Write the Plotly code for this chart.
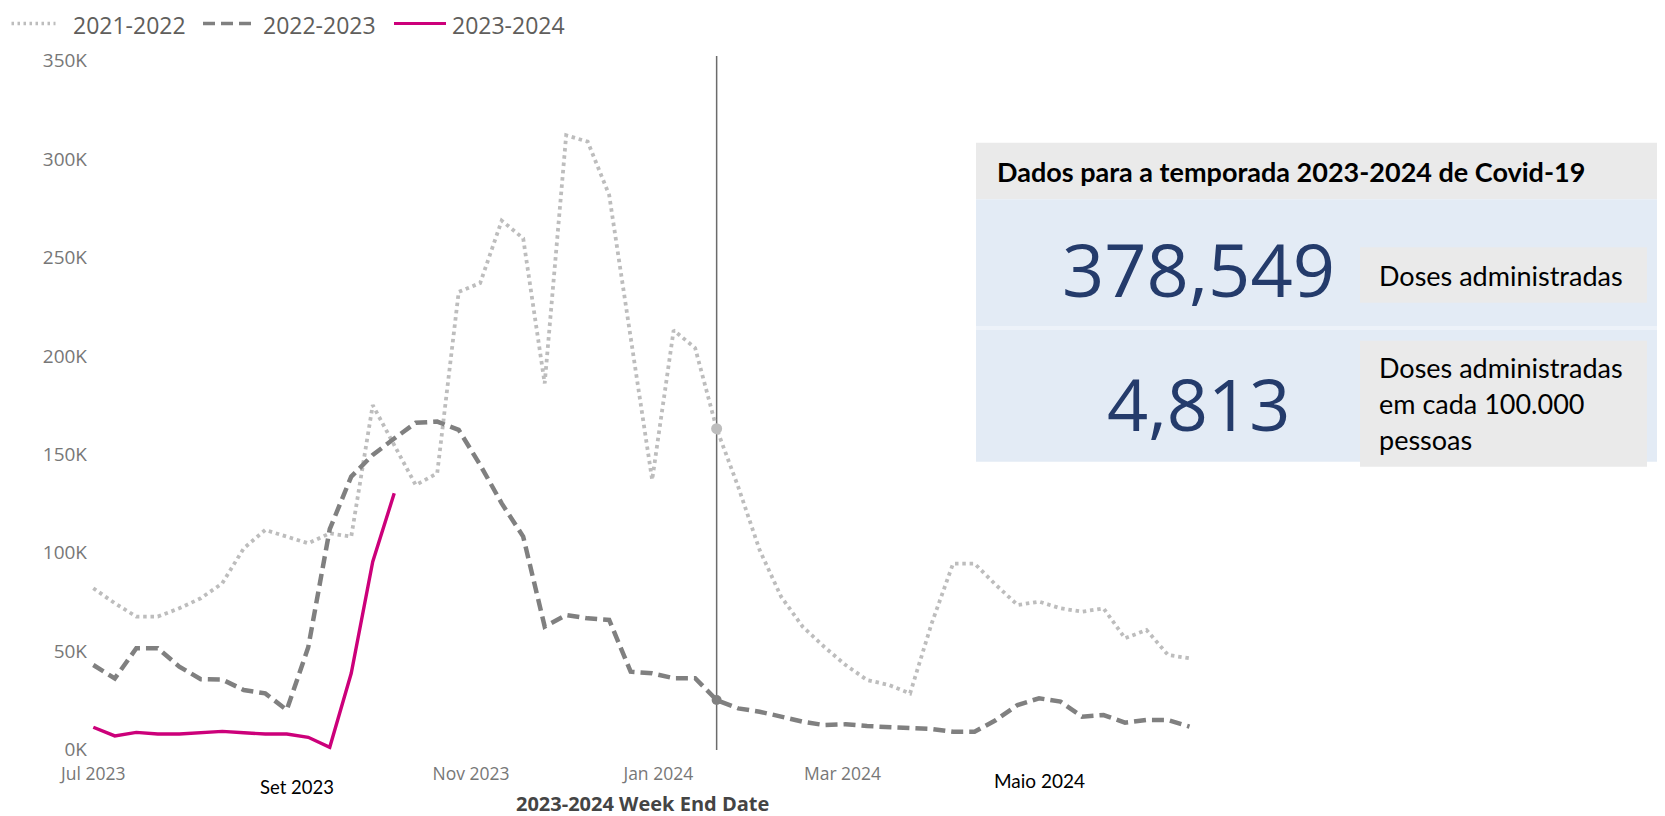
import pandas as pd
import plotly.graph_objects as go

# ---------------- data ----------------
week_end_dates = pd.date_range("2023-07-01", periods=52, freq="7D")

season_2021_2022 = [82000, 74400, 67600, 67600, 71800, 76900, 84500, 102300, 111600, 108200,
                    104800, 109900, 108200, 175000, 155000, 134400, 140400, 232500, 237000, 268700,
                    259700, 186000, 312000, 308800, 281700, 210000, 137000, 213000, 204000, 163000,
                    133600, 101400, 77700, 62500, 52300, 43000, 35400, 32900, 28600, 64000,
                    94500, 94500, 83600, 73500, 75200, 71800, 70100, 71800, 56600, 60800,
                    48100, 46400]
season_2022_2023 = [43000, 36200, 51500, 51500, 42200, 35800, 35600, 30300, 28600, 20200,
                    52000, 112000, 138700, 149700, 158000, 166000, 166600, 162400, 144600, 125100,
                    108200, 62500, 68400, 66700, 65900, 39600, 38800, 36300, 36300, 25200,
                    21000, 19300, 16800, 14200, 12500, 12900, 12000, 11400, 11200, 10500,
                    9100, 9100, 15100, 22700, 26100, 24400, 16800, 17600, 13700, 15100,
                    15000, 11700]
season_2023_2024 = [11400, 7000, 8800, 8000, 8000, 8800, 9300, 8600, 8000, 8000,
                    6300, 1200, 38800, 95500, 130200]

series_names = ["2021-2022", "2022-2023", "2023-2024"]
series_colors = ["#BDBDBD", "#808080", "#CC007A"]
series_dash = ["3.5px,3.8px", "12px,6px", "solid"]
series_width = [3.8, 4.5, 3.4]

y_tick_vals = [0, 50000, 100000, 150000, 200000, 250000, 300000, 350000]
y_tick_text = ["0K", "50K", "100K", "150K", "200K", "250K", "300K", "350K"]
x_tick_vals = ["2023-07-01", "2023-11-01", "2024-01-01", "2024-03-01"]
x_tick_text = ["Jul 2023", "Nov 2023", "Jan 2024", "Mar 2024"]
highlight_index = 29  # week shown by the hover line

box_title = "Dados para a temporada 2023-2024 de Covid-19"
kpi_values = ["378,549", "4,813"]
kpi_label_1 = ["Doses administradas"]
kpi_label_2 = ["Doses administradas", "em cada 100.000", "pessoas"]

# ---------------- layout helpers ----------------
W, H = 1665, 816
OFF = 8  # page body margin
def px(x):
    return (x - OFF) / W
def py(y):
    return 1 - (y - OFF) / H

TICK_FONT = "Open Sans"
CAL = "Lato"

fig = go.Figure()

season_values = [season_2021_2022, season_2022_2023, season_2023_2024]
for name, vals, col, dsh, wid in zip(series_names, season_values, series_colors, series_dash, series_width):
    fig.add_trace(go.Scatter(
        x=week_end_dates[:len(vals)], y=vals, name=name, mode="lines",
        line=dict(color=col, width=wid, dash=dsh), showlegend=False))

# hover markers at highlighted week
fig.add_trace(go.Scatter(
    x=[week_end_dates[highlight_index]], y=[season_2021_2022[highlight_index]],
    mode="markers", marker=dict(color="#BDBDBD", size=11), showlegend=False, hoverinfo="skip"))
fig.add_trace(go.Scatter(
    x=[week_end_dates[highlight_index]], y=[season_2022_2023[highlight_index]],
    mode="markers", marker=dict(color="#808080", size=10), showlegend=False, hoverinfo="skip"))

shapes = [
    # vertical hover line
    dict(type="line", xref="x", yref="paper",
         x0=week_end_dates[highlight_index], x1=week_end_dates[highlight_index],
         y0=py(750), y1=py(56), line=dict(color="#6B6B6B", width=1.5), layer="below"),
    # info box header
    dict(type="rect", xref="paper", yref="paper", x0=px(976), x1=1, y0=py(199.3), y1=py(142.7),
         fillcolor="#EAEAEA", line=dict(width=0), layer="above"),
    # blue area
    dict(type="rect", xref="paper", yref="paper", x0=px(976), x1=1, y0=py(461.7), y1=py(199.3),
         fillcolor="#E3EBF5", line=dict(width=0), layer="above"),
    # separator
    dict(type="rect", xref="paper", yref="paper", x0=px(976), x1=1, y0=py(330), y1=py(326),
         fillcolor="#EDF2F9", line=dict(width=0), layer="above"),
    # label boxes
    dict(type="rect", xref="paper", yref="paper", x0=px(1360), x1=px(1647), y0=py(302.7), y1=py(247.3),
         fillcolor="#EAEAEA", line=dict(width=0), layer="above"),
    dict(type="rect", xref="paper", yref="paper", x0=px(1360), x1=px(1647), y0=py(466.7), y1=py(340.7),
         fillcolor="#EAEAEA", line=dict(width=0), layer="above"),
]

# legend (drawn manually to match the sample lengths)
legend_sample_x = [(11.5, 55.5), (203, 254.5), (394, 446)]
legend_text_x = [71, 261, 450]
LEG_LINE_Y = 23.5
LEG_TEXT_Y = 25
for (sx0, sx1), col, dsh, wid in zip(legend_sample_x, series_colors, series_dash, series_width):
    shapes.append(dict(type="line", xref="paper", yref="paper",
                       x0=px(sx0), x1=px(sx1), y0=py(LEG_LINE_Y), y1=py(LEG_LINE_Y),
                       line=dict(color=col, width=min(wid, 3.6) if dsh != "solid" else 3.2,
                                 dash=dsh if dsh != "3.5px,3.8px" else "2.5px,3.5px")))

annotations = []
for name, tx in zip(series_names, legend_text_x):
    annotations.append(dict(text=name, x=px(tx), y=py(LEG_TEXT_Y), xref="paper", yref="paper",
                            showarrow=False, xanchor="left", yanchor="middle",
                            font=dict(family=TICK_FONT, size=23, color="#605E5C")))

annotations += [
    dict(text="<b>2023-2024 Week End Date</b>", x=px(642), y=py(803), xref="paper", yref="paper",
         showarrow=False, xanchor="center", yanchor="middle",
         font=dict(family=TICK_FONT, size=20, color="#444444")),
    dict(text="Set 2023", x=px(297), y=py(787), xref="paper", yref="paper",
         showarrow=False, xanchor="center", yanchor="middle",
         font=dict(family=CAL, size=18.5, color="#000000")),
    dict(text="Maio 2024", x=px(1039), y=py(780), xref="paper", yref="paper",
         showarrow=False, xanchor="center", yanchor="middle",
         font=dict(family=CAL, size=19, color="#000000")),
    dict(text="<b>" + box_title + "</b>", x=px(995), y=py(172), xref="paper", yref="paper",
         showarrow=False, xanchor="left", yanchor="middle",
         font=dict(family=CAL, size=27, color="#000000")),
    dict(text=kpi_values[0], x=px(1198), y=py(268), xref="paper", yref="paper",
         showarrow=False, xanchor="center", yanchor="middle",
         font=dict(family=TICK_FONT, size=74, color="#243B6B")),
    dict(text=kpi_values[1], x=px(1198), y=py(403), xref="paper", yref="paper",
         showarrow=False, xanchor="center", yanchor="middle",
         font=dict(family=TICK_FONT, size=72, color="#243B6B")),
]
for line_text, ly in zip(kpi_label_1, [276]):
    annotations.append(dict(text=line_text, x=px(1377), y=py(ly), xref="paper", yref="paper",
                            showarrow=False, xanchor="left", yanchor="middle",
                            font=dict(family=CAL, size=27, color="#000000")))
for line_text, ly in zip(kpi_label_2, [367, 403.5, 439]):
    annotations.append(dict(text=line_text, x=px(1377), y=py(ly), xref="paper", yref="paper",
                            showarrow=False, xanchor="left", yanchor="middle",
                            font=dict(family=CAL, size=27, color="#000000")))

fig.update_layout(
    width=W, height=H,
    margin=dict(l=0, r=0, t=0, b=0, autoexpand=False),
    paper_bgcolor="white", plot_bgcolor="white",
    showlegend=False,
    shapes=shapes,
    annotations=annotations,
    xaxis=dict(domain=[px(88), px(1200)], type="date",
               range=["2023-06-29 06:30", "2024-06-25 10:00"],
               tickvals=x_tick_vals, ticktext=x_tick_text,
               showgrid=False, zeroline=False, showline=False,
               ticks="outside", ticklen=8, tickcolor="rgba(0,0,0,0)",
               tickfont=dict(family=TICK_FONT, size=17.5, color="#777777")),
    yaxis=dict(domain=[py(749.7), py(60.5)], range=[0, 350000],
               tickvals=y_tick_vals, ticktext=y_tick_text,
               showgrid=False, zeroline=False, showline=False,
               ticks="",
               tickfont=dict(family=TICK_FONT, size=19, color="#777777")),
)

fig.write_html("out.html")
